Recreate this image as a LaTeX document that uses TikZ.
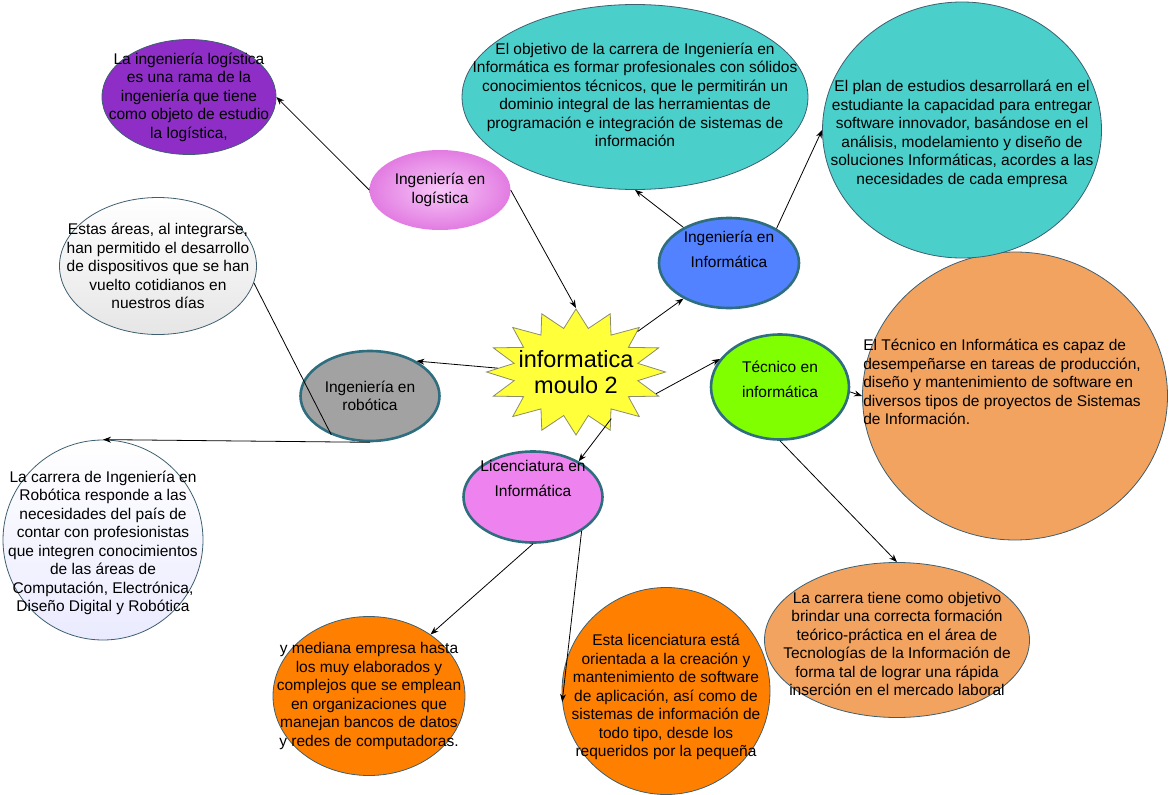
\documentclass[tikz,border=0pt]{standalone}
\usepackage{fontspec}
\setmainfont{Liberation Sans}
\usetikzlibrary{shapes.geometric,arrows.meta}
\definecolor{tealfill}{HTML}{4ACFCB}
\definecolor{purplefill}{HTML}{8E2EC6}
\definecolor{sandfill}{HTML}{F2A35F}
\definecolor{orangefill}{HTML}{FF8000}
\definecolor{bluefill}{HTML}{5282FF}
\definecolor{grayfill}{HTML}{A2A2A2}
\definecolor{greenfill}{HTML}{80FF00}
\definecolor{violetfill}{HTML}{EE82EE}
\definecolor{starfill}{HTML}{FFFF3A}
\definecolor{starline}{HTML}{8C8C6E}
\definecolor{edgeline}{HTML}{3E5F70}
\definecolor{rimline}{HTML}{2F6E7E}
\newcommand\bodyfont{\fontsize{15.5}{18.5}\selectfont}
\newcommand\topicfont{\fontsize{15.5}{18.5}\selectfont}
\newcommand\widefont{\fontsize{15.5}{25}\selectfont}
\newcommand\corefont{\fontsize{23.5}{26.5}\selectfont}

\begin{document}
\begin{tikzpicture}[x=1pt, y=-1pt,
		>={Stealth[length=8pt, width=6pt]},
		bubble/.style={ellipse, draw=edgeline, line width=0.8pt, inner sep=0pt},
		topic/.style={ellipse, draw=rimline, line width=2.6pt, inner sep=0pt, font=\topicfont, align=center},
		txt/.style={font=\bodyfont, align=center, inner sep=0pt},
		link/.style={->, line width=0.8pt}]
	\useasboundingbox (0, 0) rectangle (1171, 795);

	\draw
	(1015, 396) node [bubble, fill=sandfill, minimum width=305pt, minimum height=288pt,
		label={[txt, align=left, anchor=west, xshift=1pt, yshift=14pt]west:{El Técnico en Informática es capaz de\\desempeñarse en tareas de producción,\\diseño y mantenimiento de software en\\diversos tipos de proyectos de Sistemas\\de Información.}}] (tecx) {}
	(962, 130) node [bubble, fill=tealfill, minimum width=279pt, minimum height=256pt,
		label={[txt, yshift=-4pt]center:{El plan de estudios desarrollará en el\\estudiante la capacidad para entregar\\software innovador, basándose en el\\análisis, modelamiento y diseño de\\soluciones Informáticas, acordes a las\\necesidades de cada empresa}}] (plan) {}
	(635, 97) node [bubble, fill=tealfill, minimum width=346pt, minimum height=185pt,
		label={[txt, yshift=2pt]center:{El objetivo de la carrera de Ingeniería en\\Informática es formar profesionales con sólidos\\conocimientos técnicos, que le permitirán un\\dominio integral de las herramientas de\\programación e integración de sistemas de\\información}}] (obj) {}
	(189, 97) node [bubble, fill=purplefill, minimum width=174pt, minimum height=115pt,
		label={[txt]center:{La ingeniería logística\\es una rama de la\\ingeniería que tiene\\como objeto de estudio\\la logística,}}] (logtxt) {}
	(158, 266) node [bubble, top color=white, bottom color=black!10, minimum width=197pt, minimum height=137pt,
		label={[txt]center:{Estas áreas, al integrarse,\\han permitido el desarrollo\\de dispositivos que se han\\vuelto cotidianos en\\nuestros días}}] (estas) {}
	(103, 540) node [bubble, top color=white, bottom color=blue!8, minimum width=200pt, minimum height=200pt,
		label={[txt, yshift=-3pt]center:{La carrera de Ingeniería en\\Robótica responde a las\\necesidades del país de\\contar con profesionistas\\que integren conocimientos\\de las áreas de\\Computación, Electrónica,\\Diseño Digital y Robótica}}] (robtxt) {}
	(897, 640) node [bubble, fill=sandfill, minimum width=265pt, minimum height=155pt,
		label={[txt, yshift=-4pt]center:{La carrera tiene como objetivo\\brindar una correcta formación\\teórico-práctica en el área de\\Tecnologías de la Información de\\forma tal de lograr una rápida\\inserción en el mercado laboral}}] (carr) {}
	(369, 696) node [bubble, fill=orangefill, minimum width=192pt, minimum height=159pt,
		label={[txt]center:{y mediana empresa hasta\\los muy elaborados y\\complejos que se emplean\\en organizaciones que\\manejan bancos de datos\\y redes de computadoras.}}] (empr) {}
	(666, 691) node [bubble, fill=orangefill, minimum width=208pt, minimum height=207pt,
		label={[txt, yshift=-6pt]center:{Esta licenciatura está\\orientada a la creación y\\mantenimiento de software\\de aplicación, así como de\\sistemas de información de\\todo tipo, desde los\\requeridos por la pequeña}}] (lice) {};

	\draw
	(440, 190) node [ellipse, inner sep=0pt, inner color=violetfill!45, outer color=violetfill!95!black, minimum width=141pt, minimum height=80pt, font=\topicfont, align=center] (logi) {Ingeniería en\\logística}
	(729, 263) node [topic, fill=bluefill, minimum width=140pt, minimum height=90pt,
		label={[txt, font=\widefont, yshift=14pt]center:{Ingeniería en\\Informática}}] (infe) {}
	(370, 396) node [topic, fill=grayfill, minimum width=139pt, minimum height=90pt] (robo) {Ingeniería en\\robótica}
	(780, 387) node [topic, fill=greenfill, minimum width=138pt, minimum height=105pt,
		label={[txt, font=\widefont, yshift=8pt]center:{Técnico en\\informática}}] (tec) {}
	(533, 497) node [topic, fill=violetfill, minimum width=139pt, minimum height=91pt,
		label={[txt, font=\widefont, yshift=19pt]center:{Licenciatura en\\Informática}}] (lic) {};

	\begin{scope}[shift={(576, 372)}, xscale=1.42]
		\node [star, star points=16, star point ratio=1.42, minimum size=126pt, inner sep=0pt, draw=starline, fill=starfill, line width=0.8pt, transform shape] (core) {};
	\end{scope}
	\node [font=\corefont, align=center, inner sep=0pt] (coretxt) at (core.center) {informatica\\moulo 2};

	\draw[link] (logi.west) -- (logtxt.east);
	\draw[link] (logi.east) -- (core.north);
	\draw[link] (infe.142) -- (obj.south);
	\draw[link] (infe.36) -- (plan.west);
	\draw[link] (core.43) -- (infe.218);
	\draw[link] (core.176) -- (robo.37);
	\draw[link] (core.-21) -- (tec.155);
	\draw[link] (core.-62) -- (lic.38);
	\draw[link] (tec.-4) -- (tecx.west);
	\draw[link] (tec.south) -- (carr.north);
	\draw[link] (robo.south) -- (robtxt.north);
	\draw[line width=0.8pt] (estas.-10) -- (robo.225);
	\draw[link] (lic.south) -- (empr.45);
	\draw[link] (lic.-35) -- (lice.186);
\end{tikzpicture}
\end{document}
